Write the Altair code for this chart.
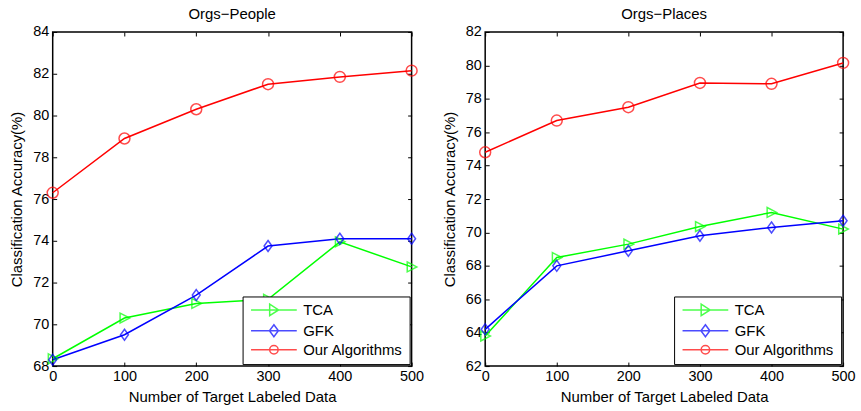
import altair as alt
import pandas as pd

# ---- data ----
x_vals = [0, 100, 200, 300, 400, 500]
series_names = ["TCA", "GFK", "Our Algorithms"]
series_colors = ["#00ff00", "#0000ff", "#ff0000"]

people_tca = [68.35, 70.3, 71.0, 71.2, 73.95, 72.75]
people_gfk = [68.3, 69.5, 71.4, 73.75, 74.1, 74.1]
people_ours = [76.3, 78.9, 80.3, 81.5, 81.85, 82.15]

places_tca = [63.8, 68.5, 69.3, 70.35, 71.2, 70.2]
places_gfk = [64.2, 68.0, 68.9, 69.8, 70.3, 70.7]
places_ours = [74.8, 76.7, 77.5, 78.95, 78.9, 80.15]

panel_titles = ["Orgs\u2212People", "Orgs\u2212Places"]
people_y_domain = [68, 84]
places_y_domain = [62, 82]
x_ticks = [0, 100, 200, 300, 400, 500]

FONT = "Liberation Sans"

# marker shapes (data) and legend symbols (line + marker)
marker_paths = [
    "M-0.8,-0.9L0.95,0L-0.8,0.9Z",
    "M0,-1L0.72,0L0,1L-0.72,0Z",
    "circle",
]
# legend symbols: 5 px per unit (symbolSize 100); line 46 px long, marker in its middle
legend_paths = [
    "M-1,0L8.2,0M2.75,-1.15L4.55,0L2.75,1.15Z",
    "M-1,0L8.2,0M3.6,-1.2L4.5,0L3.6,1.2L2.7,0Z",
    "M-1,0L8.2,0M2.75,0A0.85,0.85,0,1,0,4.45,0A0.85,0.85,0,1,0,2.75,0Z",
]


def make_df(tca, gfk, ours):
    rows = []
    for name, vals in zip(series_names, [tca, gfk, ours]):
        for xv, yv in zip(x_vals, vals):
            rows.append({"n": xv, "acc": yv, "series": name})
    return pd.DataFrame(rows)


def panel(df, title, y_domain, W, H):
    y_ticks = list(range(y_domain[0], y_domain[1] + 1, 2))
    xs = alt.Scale(domain=[0, 500], nice=False, zero=False)
    ys = alt.Scale(domain=y_domain, nice=False, zero=False)
    cscale = alt.Scale(domain=series_names, range=series_colors)

    base = alt.Chart(df)

    lines = base.mark_line(strokeWidth=1.5).encode(
        x=alt.X("n:Q", scale=xs,
                axis=alt.Axis(values=x_ticks, title="Number of Target Labeled Data",
                              ticks=False, domain=False, labelPadding=4,
                              labelFlush=False, titlePadding=6)),
        y=alt.Y("acc:Q", scale=ys,
                axis=alt.Axis(values=y_ticks, title="Classification Accuracy(%)",
                              ticks=False, domain=False, labelPadding=4,
                              labelFlush=False, titlePadding=8)),
        color=alt.Color("series:N", scale=cscale, legend=None),
        order=alt.Order("n:Q"),
    )

    points = base.mark_point(filled=False, size=121, strokeWidth=1.5).encode(
        x=alt.X("n:Q", scale=xs,
                axis=alt.Axis(orient="top", offset=-H, values=x_ticks, labels=False,
                              domain=False, ticks=True, tickSize=4, tickWidth=1,
                              tickColor="black", title=None)),
        y=alt.Y("acc:Q", scale=ys,
                axis=alt.Axis(orient="right", offset=-W, values=y_ticks, labels=False,
                              domain=False, ticks=True, tickSize=4, tickWidth=1,
                              tickColor="black", title=None)),
        color=alt.Color("series:N", scale=cscale, legend=None),
        shape=alt.Shape("series:N",
                        scale=alt.Scale(domain=series_names, range=marker_paths),
                        legend=None),
    )

    leg = base.transform_filter("false").mark_point(filled=False, strokeWidth=1.5).encode(
        x=alt.X("n:Q", scale=xs,
                axis=alt.Axis(orient="bottom", offset=-H, values=x_ticks, labels=False,
                              domain=False, ticks=True, tickSize=4, tickWidth=1,
                              tickColor="black", title=None)),
        y=alt.Y("acc:Q", scale=ys,
                axis=alt.Axis(orient="left", offset=-W, values=y_ticks, labels=False,
                              domain=False, ticks=True, tickSize=4, tickWidth=1,
                              tickColor="black", title=None)),
        color=alt.Color("series:N", scale=cscale, legend=alt.Legend(title=None)),
        shape=alt.Shape("series:N",
                        scale=alt.Scale(domain=series_names, range=legend_paths),
                        legend=alt.Legend(
                            title=None, orient="bottom-right", offset=2,
                            padding=6, strokeColor="black", fillColor="white",
                            cornerRadius=0, symbolSize=100, symbolStrokeWidth=1.5,
                            symbolFillColor="transparent",
                            labelFont=FONT, labelFontSize=15, labelColor="black",
                            labelOffset=40, rowPadding=2)),
    )

    return alt.layer(lines, points, leg).resolve_scale(
        color="independent", shape="independent"
    ).resolve_axis(x="independent", y="independent").properties(
        width=W, height=H,
        title=alt.TitleParams(title, font=FONT, fontSize=15, fontWeight="normal",
                              color="black", offset=2),
    )


left = panel(make_df(people_tca, people_gfk, people_ours), panel_titles[0],
             people_y_domain, 361, 336)
right = panel(make_df(places_tca, places_gfk, places_ours), panel_titles[1],
              places_y_domain, 360, 336)

chart = alt.hconcat(left, right, spacing=17).properties(
    padding={"left": 9, "top": 5, "right": 5, "bottom": 5},
    background="white",
).configure_view(
    stroke="black", strokeWidth=1.5
).configure_axis(
    grid=False, labelFont=FONT, labelFontSize=14.5, labelColor="black",
    titleFont=FONT, titleFontSize=15, titleFontWeight="normal", titleColor="black",
)

chart.save("out.html", embed_options={"renderer": "svg", "actions": False})
